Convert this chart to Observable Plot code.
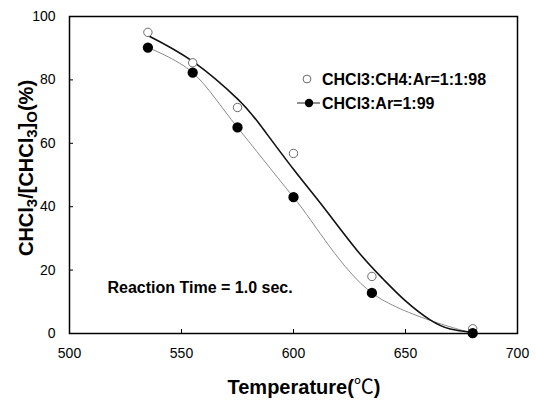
<!DOCTYPE html>
<html>
<head>
<meta charset="utf-8">
<script src="https://cdn.jsdelivr.net/npm/d3@7"></script>
<script src="https://cdn.jsdelivr.net/npm/@observablehq/plot@0.6"></script>
<style>
  html, body { margin: 0; padding: 0; background: #fff; }
  #chart { width: 536px; height: 400px; }
</style>
</head>
<body>
<div id="chart"></div>
<script>
// Measured points
const temps = [535, 555, 575, 600, 635, 680];
const seriesCH4 = [95, 85.4, 71.3, 56.8, 18, 1.5];   // CHCl3:CH4:Ar=1:1:98 (open)
const seriesAr  = [90.2, 82.3, 65, 43, 12.8, 0.1];   // CHCl3:Ar=1:99 (filled)

// Fitted curve for the open series
const fitCH4T = [535, 555.5, 575, 585.3, 600, 613, 628.4, 640, 650, 661, 670, 680];
const fitCH4V = [94, 85.6, 74, 65.6, 51.8, 40.2, 26.2, 17.2, 10.3, 4.3, 1.4, 0.4];

const xTicks = [500, 550, 600, 650, 700];
const yTicks = [0, 20, 40, 60, 80, 100];
const legendLabels = ["CHCl3:CH4:Ar=1:1:98", "CHCl3:Ar=1:99"];
const note = "Reaction Time = 1.0 sec.";

const ptsCH4 = temps.map((t, i) => ({t, v: seriesCH4[i]}));
const ptsAr = temps.map((t, i) => ({t, v: seriesAr[i]}));
const curveCH4 = fitCH4T.map((t, i) => ({t, v: fitCH4V[i]}));

const FONT = "'Liberation Sans', Arial, 'Noto Sans CJK KR', sans-serif";

const chart = Plot.plot({
  width: 536,
  height: 400,
  marginLeft: 69,
  marginRight: 19,
  marginTop: 16,
  marginBottom: 67,
  style: {fontFamily: FONT, fontSize: "14px", background: "#fff", color: "#000", overflow: "visible"},
  x: {domain: [500, 700]},
  y: {domain: [0, 100]},
  marks: [
    Plot.tickX(xTicks, {x: d => d, insetTop: 313, stroke: "#000"}),
    Plot.tickY(yTicks, {y: d => d, insetRight: 444, stroke: "#000"}),
    Plot.axisX(xTicks, {tickSize: 0, tickPadding: 15, label: null, fontSize: 14}),
    Plot.axisY(yTicks, {tickSize: 0, tickPadding: 14, label: null, fontSize: 14}),
    Plot.line(ptsAr, {x: "t", y: "v", curve: "cardinal", tension: 0, stroke: "#8a8a8a", strokeWidth: 1}),
    Plot.line(curveCH4, {x: "t", y: "v", curve: "natural", stroke: "#111", strokeWidth: 1.6}),
    Plot.dot(ptsCH4, {x: "t", y: "v", r: 4.2, fill: "#fff", stroke: "#6a6a6a", strokeWidth: 1}),
    Plot.dot(ptsAr, {x: "t", y: "v", r: 4.4, fill: "#000", stroke: "#000"}),
    Plot.text([note], {frameAnchor: "bottom-left", dx: 38, dy: -41, textAnchor: "start",
      fontWeight: "bold", fontSize: 16, fill: "#000"}),
    Plot.frame({stroke: "#000", strokeWidth: 1.5})
  ]
});
document.getElementById("chart").appendChild(chart);

// Legend, axis titles
const svg = d3.select(chart);
const lg = svg.append("g").attr("font-family", FONT).attr("font-weight", "bold")
  .attr("font-size", 16).attr("text-anchor", "start");
lg.append("circle").attr("cx", 307).attr("cy", 79).attr("r", 3.9).attr("fill", "#fff").attr("stroke", "#6a6a6a");
lg.append("text").attr("x", 322).attr("y", 85).text(legendLabels[0]);
lg.append("line").attr("x1", 297).attr("x2", 320).attr("y1", 103).attr("y2", 103).attr("stroke", "#222");
lg.append("circle").attr("cx", 309).attr("cy", 103).attr("r", 4.2).attr("fill", "#000");
lg.append("text").attr("x", 322).attr("y", 109).text(legendLabels[1]);

const xt = svg.append("text")
  .attr("x", 304).attr("y", 394)
  .attr("text-anchor", "middle")
  .attr("font-family", FONT).attr("font-weight", "bold").attr("font-size", 20);
xt.append("tspan").text("Temperature(");
xt.append("tspan").attr("font-family", "'Noto Sans CJK KR', sans-serif").attr("font-weight", "normal").text("℃");
xt.append("tspan").text(")");

const yt = svg.append("text")
  .attr("transform", "translate(33,168) rotate(-90)")
  .attr("text-anchor", "middle")
  .attr("font-family", FONT).attr("font-weight", "bold").attr("font-size", 20);
yt.append("tspan").text("CHCl");
yt.append("tspan").attr("font-size", 15).attr("dy", 4).text("3");
yt.append("tspan").attr("dy", -4).text("/[CHCl");
yt.append("tspan").attr("font-size", 15).attr("dy", 4).text("3");
yt.append("tspan").attr("dy", -4).text("]");
yt.append("tspan").attr("font-size", 15).attr("dy", 4).text("O");
yt.append("tspan").attr("dy", -4).text("(%)");
</script>
</body>
</html>
